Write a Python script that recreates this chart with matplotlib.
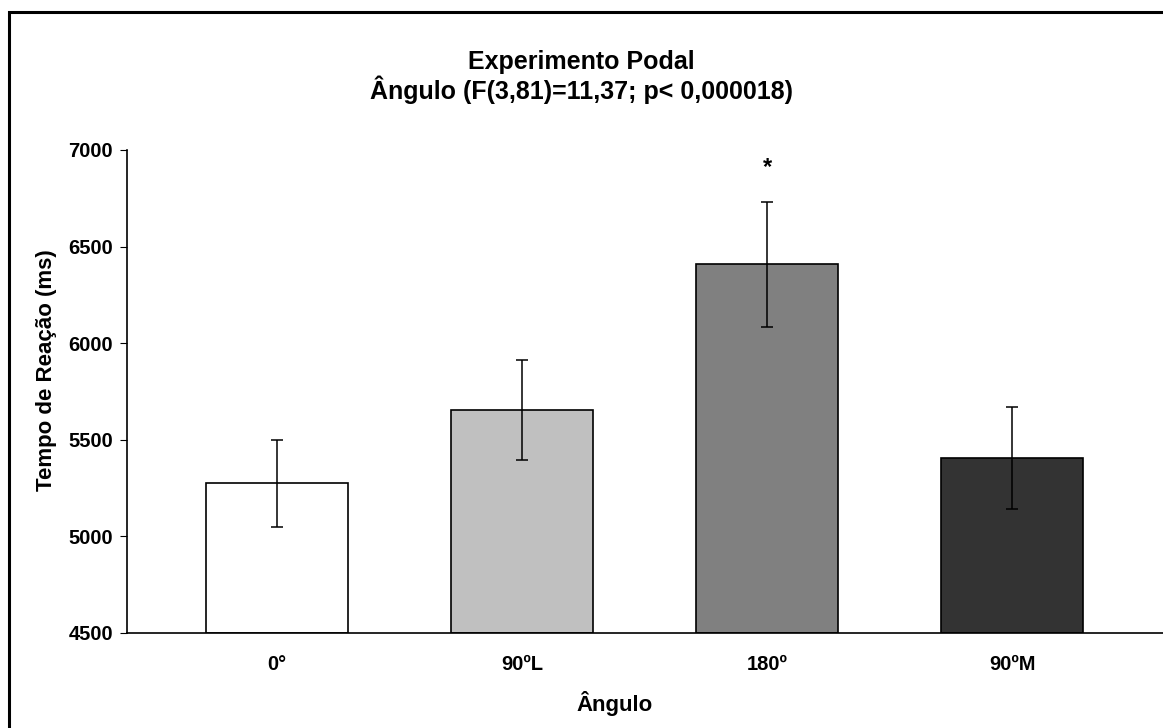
import matplotlib.pyplot as plt
from matplotlib.patches import Rectangle

plt.rcParams['font.family'] = ['Liberation Sans', 'DejaVu Sans']

# Tempo de reação médio por ângulo (ms) e erro padrão
categorias = ['0°', '90ºL', '180º', '90ºM']
tempos = [5275, 5653, 6408, 5406]
erros = [225, 260, 325, 265]
cores = ['#FFFFFF', '#C0C0C0', '#808080', '#333333']
marca_sig = ['', '', '*', '']
y_marca = 6910

fig = plt.figure(figsize=(11.63, 7.28), dpi=100)
ax = fig.add_axes([127 / 1163, 1 - 633 / 728, 1 - 127 / 1163, (633 - 150) / 728])

x = list(range(len(categorias)))
ax.bar(x, [t - 4500 for t in tempos], bottom=4500, width=0.58, color=cores,
       edgecolor='black', linewidth=1.2, zorder=2)
ax.errorbar(x, tempos, yerr=erros, fmt='none', ecolor='black', elinewidth=1.1,
            capsize=4, capthick=1.1, zorder=3)
for xi, m in zip(x, marca_sig):
    if m:
        ax.text(xi, y_marca, m, ha='center', va='center', fontsize=17, fontweight='bold')

ax.set_ylim(4500, 7000)
ax.set_xlim(-0.612, 3.615)
ax.set_yticks(range(4500, 7001, 500))
ax.set_xticks(x)
ax.set_xticklabels(categorias)
ax.tick_params(axis='x', length=0, pad=16)
ax.tick_params(axis='y', length=5, direction='out', pad=5)
for lbl in ax.get_xticklabels() + ax.get_yticklabels():
    lbl.set_fontsize(14.5)
    lbl.set_fontweight('bold')
ax.spines['top'].set_visible(False)
ax.spines['right'].set_visible(False)
ax.spines['left'].set_linewidth(1.2)
ax.spines['bottom'].set_linewidth(1.2)
ax.set_ylabel('Tempo de Reação (ms)', fontsize=16, fontweight='bold')
ax.yaxis.set_label_coords(-0.068, 0.545)

fig.text(615 / 1163, 1 - 703 / 728, 'Ângulo', ha='center', va='center',
         fontsize=16, fontweight='bold')
fig.text(0.5, 1 - 62 / 728, 'Experimento Podal', ha='center', va='center',
         fontsize=18, fontweight='bold')
fig.text(0.5, 1 - 90 / 728, 'Ângulo (F(3,81)=11,37; p< 0,000018)', ha='center', va='center',
         fontsize=18, fontweight='bold')

# moldura da figura (cortada à direita e embaixo)
fig.patches.append(Rectangle((9 / 1163, -0.1), 1.2, 1 - 12 / 728 + 0.1,
                             transform=fig.transFigure, fill=False,
                             edgecolor='black', linewidth=2.2, zorder=0))

fig.savefig('out.png', dpi=100)
